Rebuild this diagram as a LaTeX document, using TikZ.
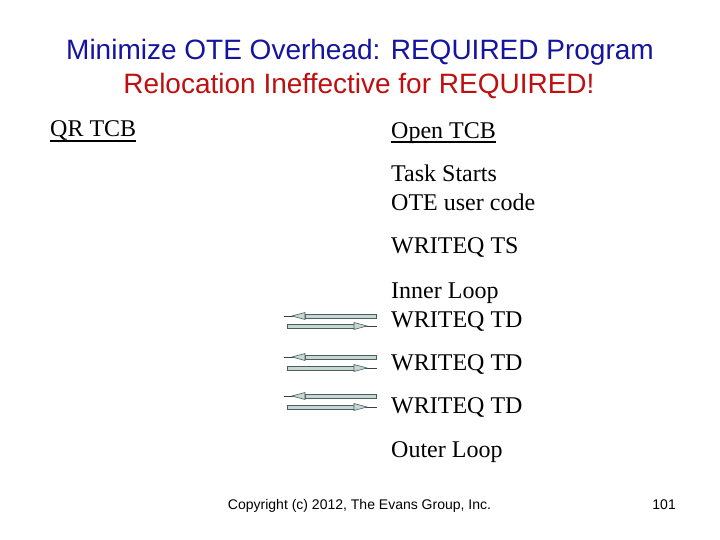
\documentclass[tikz,border=0pt]{standalone}
\usepackage{fontspec}
\setmainfont{Liberation Serif}
\setsansfont{Liberation Sans}
\definecolor{titleblue}{RGB}{20,20,160}
\definecolor{titlered}{RGB}{190,16,16}
\definecolor{barfill}{RGB}{196,216,214}
\definecolor{barline}{RGB}{80,92,92}
\tikzset{
    titlenode/.style = {font=\sffamily\fontsize{28}{34}\selectfont, inner sep=0pt, anchor=base},
    txtnode/.style = {font=\fontsize{24}{29}\selectfont, inner sep=0pt, anchor=base west},
    footnode/.style = {font=\sffamily\fontsize{14}{17}\selectfont, inner sep=0pt, anchor=base},
    uline/.style = {line width=1.5pt, black},
    barbox/.style = {draw=barline, fill=barfill, line width=0.6pt},
    bartail/.style = {draw=barline!70!black, line width=0.9pt}, % thin end of a bar
}
\begin{document}
\begin{tikzpicture}[x=1pt, y=-1pt]
  \fill[white] (0,0) rectangle (720,540);
  \useasboundingbox (0,0) rectangle (720,540);

  % title
  \node[titlenode, text=titleblue] (title1) at (360,60) {Minimize OTE Overhead: REQUIRED Program};
  \node[titlenode, text=titlered] (title2) at (359,94) {Relocation Ineffective for REQUIRED!};

  % left column
  \node[txtnode] (qr) at (50,137) {QR TCB};
  \draw[uline] ([yshift=-4pt]qr.base west) -- ([yshift=-4pt]qr.base east);

  % right column
  \node[txtnode] (open) at (391,139) {Open TCB};
  \draw[uline] ([yshift=-3pt]open.base west) -- ([yshift=-3pt]open.base east);
  \node[txtnode] (task) at (391,182) {Task Starts};
  \node[txtnode] (ote) at (391,211) {OTE user code};
  \node[txtnode] (wts) at (391,254) {WRITEQ TS};
  \node[txtnode] (inner) at (391,298) {Inner Loop};
  \node[txtnode] (wtd1) at (391,327) {WRITEQ TD};
  \node[txtnode] (wtd2) at (391,370) {WRITEQ TD};
  \node[txtnode] (wtd3) at (391,413) {WRITEQ TD};
  \node[txtnode] (outer) at (391,457) {Outer Loop};

  % arrow pairs
  \foreach \i/\ya/\yb in {1/316/326, 2/357/368, 3/396/407} {
    \coordinate (inL\i) at (284,\ya);
    \coordinate (inR\i) at (376,\ya);
    \coordinate (outL\i) at (287,\yb);
    \coordinate (outR\i) at (377,\yb);
    \draw[bartail] (inL\i) -- ++(10,0);
    \draw[barbox] ([xshift=21pt,yshift=2pt]inL\i) rectangle ([yshift=-2pt]inR\i);
    \draw[barbox] ([xshift=8pt]inL\i) -- ++(13,3.5) -- ++(0,-7) -- cycle;
    \draw[bartail] (outR\i) -- ++(-12,0);
    \draw[barbox] ([yshift=2pt]outL\i) rectangle ([xshift=-21pt,yshift=-2pt]outR\i);
    \draw[barbox] ([xshift=-10pt]outR\i) -- ++(-13,3.5) -- ++(0,-7) -- cycle;
  }

  % footer
  \node[footnode] (copy) at (359.5,509) {Copyright (c) 2012, The Evans Group, Inc.};
  \node[footnode, anchor=base east] (page) at (676,509) {101};
\end{tikzpicture}
\end{document}
